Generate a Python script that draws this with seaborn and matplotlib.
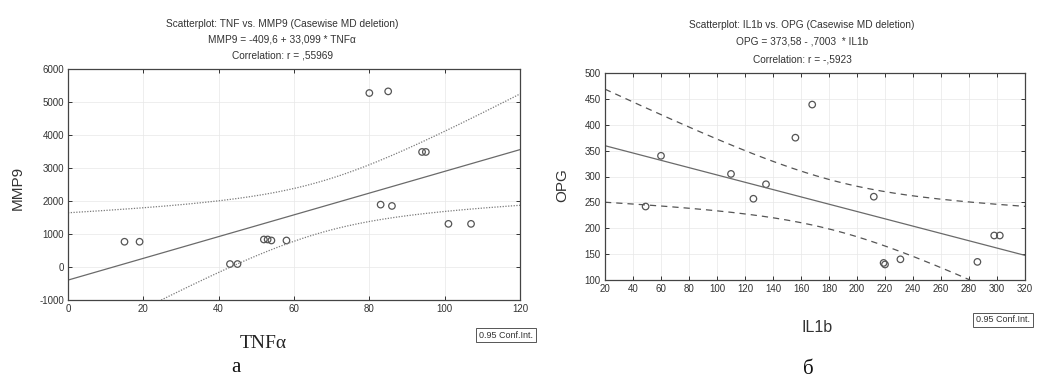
import numpy as np
import pandas as pd
import matplotlib
matplotlib.use("Agg")
import matplotlib.pyplot as plt
import seaborn as sns

# ---- data: panel a (TNFα vs MMP9) ----
tnf = [15, 19, 43, 45, 52, 53, 54, 58, 80, 85, 83, 86, 94, 95, 101, 107]
mmp9 = [765, 765, 90, 90, 834, 834, 804, 804, 5272, 5322, 1890, 1850, 3486, 3486, 1307, 1307]

# ---- data: panel b (IL1b vs OPG) ----
il1b = [49, 60, 110, 126, 135, 156, 168, 212, 219, 220, 231, 286, 298, 302]
opg = [242, 340, 305, 257, 285, 375, 439, 261, 133, 130, 140, 135, 186, 186]

titles_a = ["Scatterplot: TNF vs. MMP9 (Casewise MD deletion)",
            "MMP9 = -409,6 + 33,099 * TNFα",
            "Correlation: r = ,55969"]
titles_b = ["Scatterplot: IL1b vs. OPG (Casewise MD deletion)",
            "OPG = 373,58 - ,7003  * IL1b",
            "Correlation: r = -,5923"]

xticks_a = [0, 20, 40, 60, 80, 100, 120]
yticks_a = [-1000, 0, 1000, 2000, 3000, 4000, 5000, 6000]
xticks_b = list(range(20, 321, 20))
yticks_b = list(range(100, 501, 50))

sns.set_theme(style="white")
plt.rcParams['font.family'] = ['Liberation Sans', 'DejaVu Sans']
plt.rcParams['axes.unicode_minus'] = False

fig = plt.figure(figsize=(10.37, 3.80), dpi=100)
fig.patch.set_facecolor("white")

ax_a = fig.add_axes([68/1037, 1-300/380, 452/1037, 231/380])
ax_b = fig.add_axes([605/1037, 1-280/380, 420/1037, 207/380])


def regression_band(x, y, xmin, xmax, tcrit):
    x = np.asarray(x, float)
    y = np.asarray(y, float)
    n = len(x)
    b1, b0 = np.polyfit(x, y, 1)
    resid = y - (b0 + b1 * x)
    s = np.sqrt(np.sum(resid**2) / (n - 2))
    xs = np.linspace(xmin, xmax, 200)
    yh = b0 + b1 * xs
    se = s * np.sqrt(1/n + (xs - x.mean())**2 / np.sum((x - x.mean())**2))
    return pd.DataFrame({"x": xs, "fit": yh, "lo": yh - tcrit*se, "hi": yh + tcrit*se})


def draw(ax, x, y, xlim, ylim, xticks, yticks, tcrit, ci_style, ci_color):
    band = regression_band(x, y, xlim[0], xlim[1], tcrit)
    sns.lineplot(data=band, x="x", y="fit", ax=ax, color="#6a6a6a", lw=0.9)
    sns.lineplot(data=band, x="x", y="lo", ax=ax, color=ci_color, lw=0.9, linestyle=ci_style)
    sns.lineplot(data=band, x="x", y="hi", ax=ax, color=ci_color, lw=0.9, linestyle=ci_style)
    df = pd.DataFrame({"x": x, "y": y})
    sns.scatterplot(data=df, x="x", y="y", ax=ax, marker="o", s=22,
                    facecolors="none", edgecolor="#555555", linewidth=0.9)
    ax.set_xlim(*xlim)
    ax.set_ylim(*ylim)
    ax.set_xticks(xticks)
    ax.set_yticks(yticks)
    ax.tick_params(direction="in", length=3, width=0.7, labelsize=7,
                   colors="#333333", top=True, right=True, bottom=True, left=True, pad=3)
    ax.grid(True, color="#e8e8e8", lw=0.5)
    for sp in ax.spines.values():
        sp.set_color("#444444")
        sp.set_linewidth(0.9)
    ax.set_xlabel("")
    ax.set_ylabel("")


draw(ax_a, tnf, mmp9, (0, 120), (-1000, 6000), xticks_a, yticks_a, 2.145, (0, (1, 1.2)), "#7a7a7a")
draw(ax_b, il1b, opg, (20, 320), (100, 500), xticks_b, yticks_b, 2.179, (0, (5, 4)), "#555555")

# titles
for i, t in enumerate(titles_a):
    fig.text(282/1037, 1 - (24 + 16*i)/380, t, ha="center", va="center", fontsize=7.3, color="#333333")
for i, t in enumerate(titles_b):
    fig.text(802/1037, 1 - (25 + 17*i)/380, t, ha="center", va="center", fontsize=7.3, color="#333333")

# axis labels
fig.text(18/1037, 1 - 188/380, "MMP9", rotation=90, ha="center", va="center", fontsize=11, color="#333333")
fig.text(562/1037, 1 - 185/380, "OPG", rotation=90, ha="center", va="center", fontsize=11, color="#333333")
fig.text(263/1037, 1 - 343/380, "TNFα", ha="center", va="center", fontsize=14,
         family=["Liberation Serif", "DejaVu Serif"], color="#222222")
fig.text(817/1037, 1 - 327/380, "IL1b", ha="center", va="center", fontsize=11.5, color="#333333")

# panel letters
fig.text(236/1037, 1 - 367/380, "а", ha="center", va="center", fontsize=15,
         family=["Liberation Serif", "DejaVu Serif"], color="#111111")
fig.text(808/1037, 1 - 369/380, "б", ha="center", va="center", fontsize=15,
         family=["Liberation Serif", "DejaVu Serif"], color="#111111")

# confidence legend boxes
box = dict(boxstyle="square,pad=0.3", fc="white", ec="#555555", lw=0.7)
fig.text(506/1037, 1 - 335/380, "0.95 Conf.Int.", ha="center", va="center", fontsize=6.5,
         color="#333333", bbox=box)
fig.text(1003/1037, 1 - 320/380, "0.95 Conf.Int.", ha="center", va="center", fontsize=6.5,
         color="#333333", bbox=box)

fig.savefig("out.png", dpi=100, facecolor="white")
